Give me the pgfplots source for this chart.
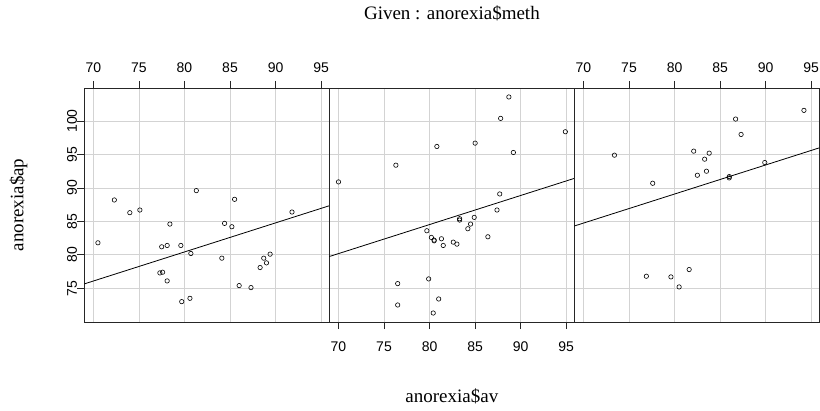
\documentclass[border=0pt]{standalone}
\usepackage{fontspec}
\setmainfont{Liberation Serif}
\newfontfamily\ticksans{Liberation Sans}
\usepackage{graphicx}
\usepackage{pgfplots}
\pgfplotsset{compat=1.18}
\definecolor{gridgray}{HTML}{D3D3D3}
\pgfplotsset{
 panel/.style={
  scale only axis, width=245pt, height=234pt, anchor=south west,
  xmin=69.004, xmax=95.896, ymin=69.958, ymax=104.942,
  xtick={70,75,...,95}, ytick={75,80,...,100},
  grid=major, major grid style={gridgray, line width=0.8pt},
  axis line style={black!85, line width=0.9pt},
  tick align=outside, major tick length=7pt,
  tick style={black!85, line width=0.8pt},
  /pgf/number format/assume math mode=true,
  tick label style={font=\ticksans\fontsize{14}{14}\selectfont, inner sep=0pt},
  clip=true,
 },
 pts/.style={only marks, mark=o, mark size=2.2pt, mark options={line width=0.6pt, black}},
 fit/.style={black, line width=0.8pt, no marks},
}
\begin{document}
\begin{tikzpicture}
\path[use as bounding box] (0,0) rectangle (820pt,410pt);
% Panel 1: Cont
\begin{axis}[panel, at={(84.3pt,88pt)},
  xtick pos=right, xticklabel pos=right, xticklabel shift=8.4pt,
  ytick pos=left,
  yticklabels={\rotatebox{90}{75}\hspace{9pt},\rotatebox{90}{80}\hspace{9pt},\rotatebox{90}{85}\hspace{9pt},\rotatebox{90}{90}\hspace{9pt},\rotatebox{90}{95}\hspace{9pt},\rotatebox{90}{100}\hspace{9pt}},
  ylabel={anorexia\$ap},
  every axis y label/.style={at={(axis description cs:0,0.5)}, xshift=-61pt, rotate=90, anchor=base, font=\fontsize{19}{19}\selectfont},
]
\addplot[pts] coordinates {
(80.7,80.2) (89.4,80.1) (91.8,86.4) (74.0,86.3) (78.1,76.1) (88.3,78.1)
(87.3,75.1) (75.1,86.7) (80.6,73.5) (78.4,84.6) (77.6,77.4) (88.7,79.5)
(81.3,89.6) (78.1,81.4) (70.5,81.8) (77.3,77.3) (85.2,84.2) (86.0,75.4)
(84.1,79.5) (79.7,73.0) (85.5,88.3) (84.4,84.7) (79.6,81.4) (77.5,81.2)
(72.3,88.2) (89.0,78.8)};
\addplot[fit] coordinates {(69.004,75.653) (95.896,87.338)};
\end{axis}
% Panel 2: CBT
\begin{axis}[panel, at={(329.4pt,88pt)},
  xtick pos=left, xticklabel pos=left, xticklabel shift=12.4pt,
  yticklabels={}, ytick style={draw=none},
  title={Given : anorexia\$meth},
  title style={at={(0.5,1)}, anchor=base, yshift=62pt, font=\fontsize{19}{19}\selectfont},
  xlabel={anorexia\$av},
  every axis x label/.style={at={(axis description cs:0.5,0)}, anchor=base, yshift=-80pt, font=\fontsize{19}{19}\selectfont},
]
\addplot[pts] coordinates {
(80.5,82.2) (84.9,85.6) (81.5,81.4) (82.6,81.9) (79.9,76.4) (88.7,103.6)
(94.9,98.4) (76.3,93.4) (81.0,73.4) (80.5,82.1) (85.0,96.7) (89.2,95.3)
(81.3,82.4) (76.5,72.5) (70.0,90.9) (80.4,71.3) (83.3,85.4) (83.0,81.6)
(87.7,89.1) (84.2,83.9) (86.4,82.7) (76.5,75.7) (80.2,82.6) (87.8,100.4)
(83.3,85.2) (79.7,83.6) (84.5,84.6) (80.8,96.2) (87.4,86.7)};
\addplot[fit] coordinates {(69.004,79.750) (95.896,91.435)};
\end{axis}
% Panel 3: FT
\begin{axis}[panel, at={(574.4pt,88pt)},
  xtick pos=right, xticklabel pos=right, xticklabel shift=8.4pt,
  yticklabels={}, ytick style={draw=none},
]
\addplot[pts] coordinates {
(83.8,95.2) (83.3,94.3) (86.0,91.5) (82.5,91.9) (86.7,100.3) (79.6,76.7)
(76.9,76.8) (94.2,101.6) (73.4,94.9) (80.5,75.2) (81.6,77.8) (82.1,95.5)
(77.6,90.7) (83.5,92.5) (89.9,93.8) (86.0,91.7) (87.3,98.0)};
\addplot[fit] coordinates {(69.004,84.313) (95.896,95.998)};
\end{axis}
\end{tikzpicture}
\end{document}
